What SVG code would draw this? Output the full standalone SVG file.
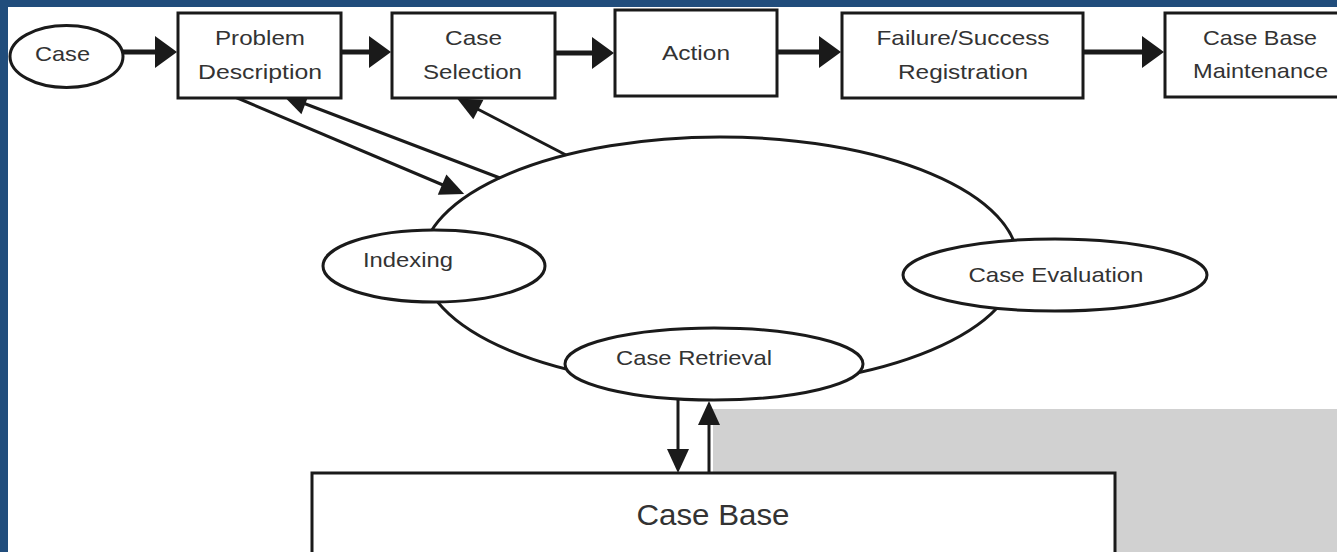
<svg xmlns="http://www.w3.org/2000/svg" width="1337" height="552" viewBox="0 0 1337 552">
<style>
.box{fill:#fff;stroke:#1a1a1a;stroke-width:3}
.el{fill:#fff;stroke:#1a1a1a;stroke-width:3}
.t{font-family:"Liberation Sans",Arial,Helvetica,sans-serif;font-size:21px;fill:#333;text-anchor:middle}
.big{font-size:30px}
.thick{stroke:#1a1a1a;stroke-width:5;fill:none}
.thin{stroke:#1a1a1a;stroke-width:3;fill:none}
</style>
<defs>
<marker id="hb" markerUnits="userSpaceOnUse" markerWidth="24" markerHeight="34" viewBox="0 -17 24 34" refX="1" refY="0" orient="auto" overflow="visible"><path d="M0,-16 L22,0 L0,16z" fill="#1a1a1a"/></marker>
<marker id="hs" markerUnits="userSpaceOnUse" markerWidth="26" markerHeight="24" viewBox="0 -12 26 24" refX="1" refY="0" orient="auto" overflow="visible"><path d="M0,-11 L24,0 L0,11z" fill="#1a1a1a"/></marker>
</defs>
<rect x="0" y="0" width="1337" height="552" fill="#fff"/>
<rect x="713" y="409" width="624" height="143" fill="#d1d1d1"/>
<rect x="0" y="0" width="1337" height="7" fill="#214d7c"/>
<rect x="0" y="0" width="8" height="552" fill="#214d7c"/>

<g id="cycle">
<ellipse class="el" cx="720" cy="262" rx="298" ry="125"/>
</g>

<g id="connectors">
<line class="thick" x1="122" y1="52" x2="156" y2="52" marker-end="url(#hb)"/>
<line class="thick" x1="341" y1="52" x2="370" y2="52" marker-end="url(#hb)"/>
<line class="thick" x1="555" y1="53" x2="593" y2="53" marker-end="url(#hb)"/>
<line class="thick" x1="777" y1="52" x2="820" y2="52" marker-end="url(#hb)"/>
<line class="thick" x1="1083" y1="52" x2="1143" y2="52" marker-end="url(#hb)"/>
<line class="thin" x1="235" y1="97" x2="443" y2="185" marker-end="url(#hs)"/>
<line class="thin" x1="500" y1="178" x2="304.4" y2="103.5" marker-end="url(#hs)"/>
<line class="thin" x1="566" y1="155" x2="477.5" y2="109" marker-end="url(#hs)"/>
<line class="thin" x1="678" y1="395" x2="678" y2="450" marker-end="url(#hs)"/>
<line class="thin" x1="709" y1="473" x2="709" y2="424" marker-end="url(#hs)"/>
</g>

<g id="case">
<ellipse class="el" cx="66.5" cy="56.5" rx="56.5" ry="31"/>
<text class="t" x="62.5" y="61" textLength="55" lengthAdjust="spacingAndGlyphs">Case</text>
</g>
<g id="problem-description">
<rect class="box" x="178" y="13" width="163" height="85"/>
<text class="t" x="260" y="45" textLength="90" lengthAdjust="spacingAndGlyphs">Problem</text>
<text class="t" x="260" y="79" textLength="124" lengthAdjust="spacingAndGlyphs">Description</text>
</g>
<g id="case-selection">
<rect class="box" x="392" y="13" width="163" height="85"/>
<text class="t" x="473.5" y="45" textLength="57" lengthAdjust="spacingAndGlyphs">Case</text>
<text class="t" x="472.5" y="79" textLength="99" lengthAdjust="spacingAndGlyphs">Selection</text>
</g>
<g id="action">
<rect class="box" x="615" y="10" width="162" height="86"/>
<text class="t" x="696" y="60" textLength="68" lengthAdjust="spacingAndGlyphs">Action</text>
</g>
<g id="failure-success">
<rect class="box" x="842" y="13" width="241" height="85"/>
<text class="t" x="963" y="45" textLength="173" lengthAdjust="spacingAndGlyphs">Failure/Success</text>
<text class="t" x="963" y="79" textLength="130" lengthAdjust="spacingAndGlyphs">Registration</text>
</g>
<g id="case-base-maintenance">
<rect class="box" x="1165" y="13" width="200" height="84"/>
<text class="t" x="1260" y="45" textLength="114" lengthAdjust="spacingAndGlyphs">Case Base</text>
<text class="t" x="1260.5" y="78" textLength="135" lengthAdjust="spacingAndGlyphs">Maintenance</text>
</g>
<g id="indexing">
<ellipse class="el" cx="434" cy="266" rx="111" ry="36"/>
<text class="t" x="408" y="267" textLength="90" lengthAdjust="spacingAndGlyphs">Indexing</text>
</g>
<g id="case-evaluation">
<ellipse class="el" cx="1055" cy="275" rx="152" ry="36"/>
<text class="t" x="1056" y="282" textLength="175" lengthAdjust="spacingAndGlyphs">Case Evaluation</text>
</g>
<g id="case-retrieval">
<ellipse class="el" cx="714" cy="364" rx="149" ry="36"/>
<text class="t" x="694" y="365" textLength="156" lengthAdjust="spacingAndGlyphs">Case Retrieval</text>
</g>
<g id="case-base">
<rect class="box" x="312" y="473" width="803" height="100"/>
<text class="t big" x="713" y="525" textLength="153" lengthAdjust="spacingAndGlyphs">Case Base</text>
</g>
</svg>
